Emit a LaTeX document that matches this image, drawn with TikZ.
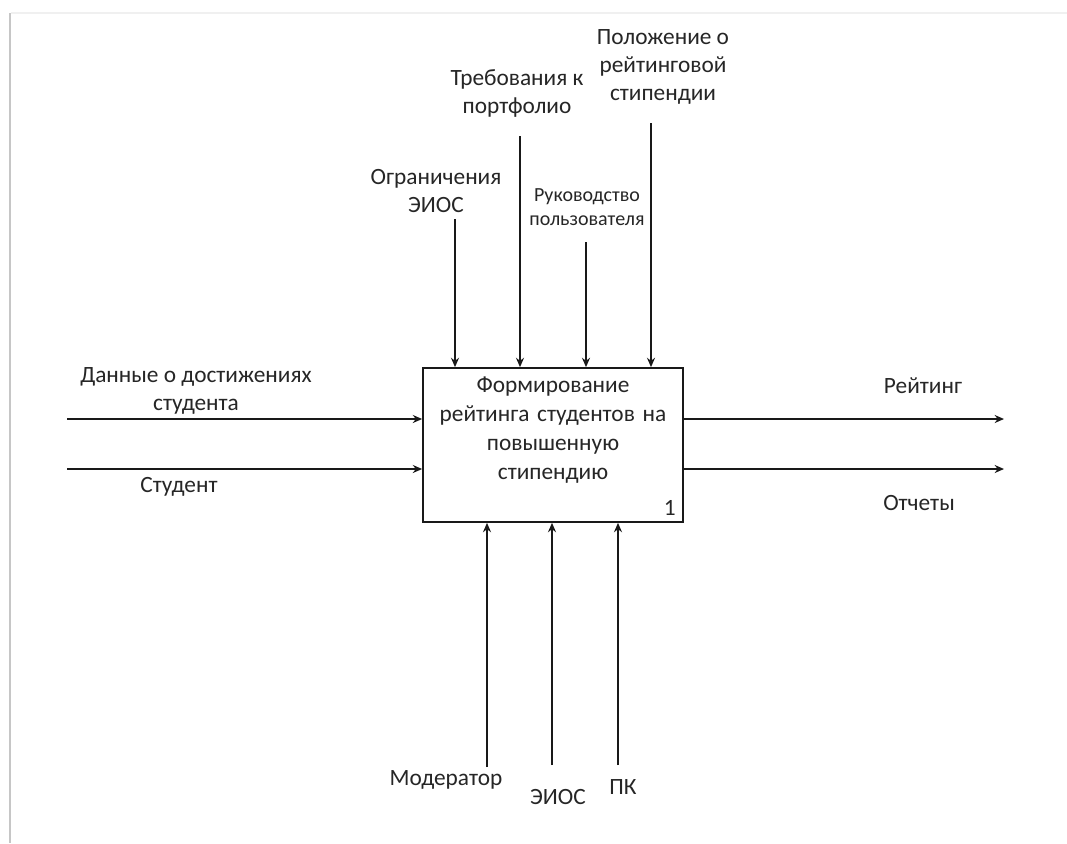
\documentclass[tikz,border=0pt]{standalone}
\usepackage{fontspec}
\setmainfont{Carlito}
\usetikzlibrary{arrows.meta}
\begin{document}
\begin{tikzpicture}[x=0.75pt,y=-0.75pt,
  lbl/.style={font=\fontsize{17.5}{21}\selectfont, text=black!85, align=center, inner sep=0pt},
  boxlbl/.style={font=\fontsize{17.5}{21.75}\selectfont, text=black!85, align=center, inner sep=0pt},
  smalllbl/.style={font=\fontsize{15}{18}\selectfont, text=black!85, align=center, inner sep=0pt},
  conn/.style={line width=1.3pt, draw=black!90, -{Stealth[length=7pt,width=6pt]}},
  func/.style={draw=black!90, line width=1.3pt, minimum width=195pt, minimum height=115.5pt, inner sep=0pt}]
\useasboundingbox[fill=white] (0,0) rectangle (1067,843);
% page shadow
\draw[line width=2pt, gray!45] (10,13) -- (10,843);
\draw[line width=1.2pt, gray!12] (11,13) -- (1067,13);

% function box
\node[func, label={[lbl, anchor=south east, inner sep=0pt, xshift=-6pt, yshift=5pt]south east:1}] (box) at (553,445) {};
\node[boxlbl, text width=200pt] (boxtext) at (553,430) {Формирование\\рейтинга студентов на\\повышенную\\стипендию};

% controls (top)
\coordinate (t1) at (455,219);
\coordinate (t2) at (520,136);
\coordinate (t3) at (586,242);
\coordinate (t4) at (651,123);
\draw[conn] (t1) -- (t1 |- box.north);
\draw[conn] (t2) -- (t2 |- box.north);
\draw[conn] (t3) -- (t3 |- box.north);
\draw[conn] (t4) -- (t4 |- box.north);
\node[lbl] (l1) at (436,191) {Ограничения\\ЭИОС};
\node[lbl] (l2) at (517,93) {Требования к\\портфолио};
\node[smalllbl] (l3) at (587,207) {Руководство\\пользователя};
\node[lbl] (l4) at (663,67) {Положение о\\рейтинговой\\стипендии};

% inputs (left)
\coordinate (i1) at (67,419);
\coordinate (i2) at (67,469);
\draw[conn] (i1) -- (i1 -| box.west);
\draw[conn] (i2) -- (i2 -| box.west);
\node[lbl] (li1) at (196,391) {Данные о достижениях\\студента};
\node[lbl] (li2) at (179,487) {Студент};

% outputs (right)
\coordinate (o1) at (1004,419);
\coordinate (o2) at (1004,469);
\draw[conn] (o1 -| box.east) -- (o1);
\draw[conn] (o2 -| box.east) -- (o2);
\node[lbl] (lo1) at (923,386) {Рейтинг};
\node[lbl] (lo2) at (919,503) {Отчеты};

% mechanisms (bottom)
\coordinate (m1) at (487,767);
\coordinate (m2) at (552,765);
\coordinate (m3) at (618,765);
\draw[conn] (m1) -- (m1 |- box.south);
\draw[conn] (m2) -- (m2 |- box.south);
\draw[conn] (m3) -- (m3 |- box.south);
\node[lbl] (lm1) at (446,780) {Модератор};
\node[lbl] (lm2) at (558,797) {ЭИОС};
\node[lbl] (lm3) at (623,787) {ПК};
\end{tikzpicture}
\end{document}
